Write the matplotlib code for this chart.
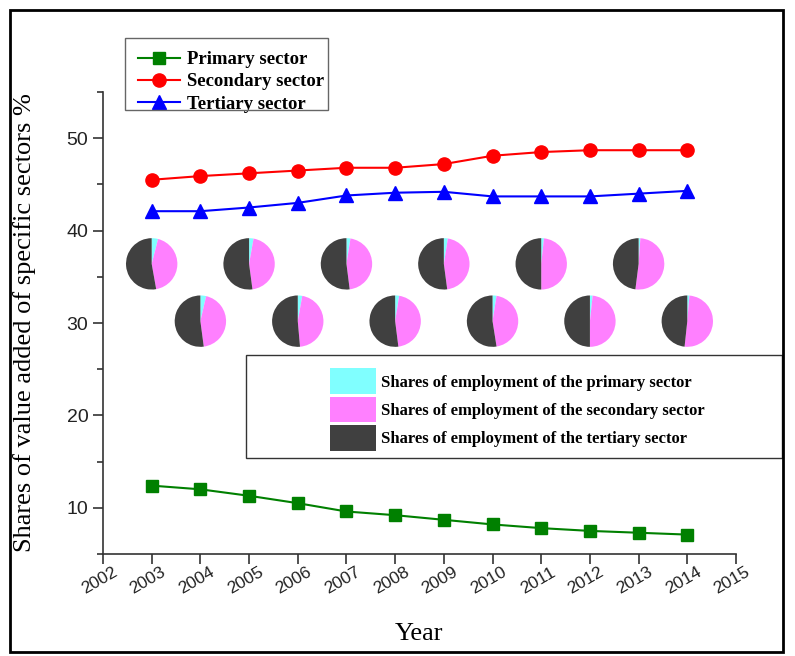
import numpy as np
import matplotlib.pyplot as plt
from matplotlib.patches import Patch, Rectangle
from matplotlib.transforms import ScaledTranslation

plt.rcParams['font.family'] = ['Liberation Serif', 'DejaVu Serif']

# value added shares (%)
years = list(range(2003, 2015))
primary = [12.4, 12.0, 11.3, 10.5, 9.6, 9.2, 8.7, 8.2, 7.8, 7.5, 7.3, 7.1]
secondary = [45.5, 45.9, 46.2, 46.5, 46.8, 46.8, 47.2, 48.1, 48.5, 48.7, 48.7, 48.7]
tertiary = [42.1, 42.1, 42.5, 43.0, 43.8, 44.1, 44.2, 43.7, 43.7, 43.7, 44.0, 44.3]

# employment shares (%) for the pies
emp_primary = [4.0, 3.6, 2.8, 2.8, 2.5, 2.5, 2.5, 2.5, 1.7, 1.7, 1.1, 1.3]
emp_secondary = [43.2, 44.3, 45.1, 45.8, 45.5, 45.5, 45.4, 45.0, 48.3, 48.3, 50.9, 50.4]
emp_tertiary = [52.8, 52.1, 52.1, 51.4, 52.0, 52.0, 52.1, 52.5, 50.0, 50.0, 48.0, 48.3]

line_labels = ['Primary sector', 'Secondary sector', 'Tertiary sector']
pie_labels = ['Shares of employment of the primary sector',
              'Shares of employment of the secondary sector',
              'Shares of employment of the tertiary sector']
pie_colors = ['#80FFFF', '#FF80FF', '#404040']

W, H = 795, 656
fig = plt.figure(figsize=(W / 100, H / 100), dpi=100)
ax = fig.add_axes([103 / W, 1 - 554 / H, (736 - 103) / W, (554 - 92) / H])

ax.plot(years, primary, color='#008000', lw=1.5, marker='s', ms=8, label=line_labels[0])
ax.plot(years, secondary, color='red', lw=1.5, marker='o', ms=9.5, label=line_labels[1])
ax.plot(years, tertiary, color='blue', lw=1.5, marker='^', ms=9.5, label=line_labels[2])

ax.set_xlim(2002, 2015)
ax.set_ylim(5, 55)
ax.set_xticks(range(2002, 2016))
ax.set_yticks([10, 20, 30, 40, 50])
ax.set_yticks([5, 15, 25, 35, 45, 55], minor=True)
for s in ['top', 'right']:
    ax.spines[s].set_visible(False)
for s in ['left', 'bottom']:
    ax.spines[s].set_color('#333333')
    ax.spines[s].set_linewidth(1.2)
ax.tick_params(which='major', direction='out', length=7, width=1.2, color='#333333')
ax.tick_params(which='minor', direction='out', length=4, width=1.2, color='#333333')
ax.tick_params(axis='x', pad=2)

for lab in ax.get_yticklabels():
    lab.set_family(['Liberation Sans', 'DejaVu Sans'])
    lab.set_fontsize(14)
    lab.set_color('#222222')
ax.set_xticklabels([str(y) for y in range(2002, 2016)], rotation=30, ha='right',
                   rotation_mode='anchor', family=['Liberation Sans', 'DejaVu Sans'],
                   fontsize=12.5, color='#222222')
shift = ScaledTranslation(0.09, 0.02, fig.dpi_scale_trans)
for lab in ax.get_xticklabels():
    lab.set_transform(lab.get_transform() + shift)

ax.set_ylabel('Shares of value added of specific sectors %', fontsize=19)
ax.yaxis.set_label_coords(-0.106, 0.5)
ax.set_xlabel('Year', fontsize=19)
ax.xaxis.set_label_coords(0.5, -0.15)

# small pies, alternating rows
rx, ry = 0.53, 2.78
for i, yr in enumerate(years):
    cy = 36.4 if i % 2 == 0 else 30.2
    pax = ax.inset_axes([yr - rx, cy - ry, 2 * rx, 2 * ry], transform=ax.transData)
    pax.pie([emp_primary[i], emp_secondary[i], emp_tertiary[i]], colors=pie_colors,
            startangle=90, counterclock=False, wedgeprops=dict(linewidth=0))
    pax.set_xlim(-1, 1)
    pax.set_ylim(-1, 1)

# line legend: box drawn separately so the rows can sit low in it
fig.add_artist(Rectangle((125 / W, 1 - 110 / H), (328 - 125) / W, (110 - 38) / H,
                         transform=fig.transFigure, fill=False, edgecolor='#666666', lw=1))
bold = dict(family='Liberation Serif', weight='bold', size=13.5)
ax.legend(loc='upper left', bbox_to_anchor=(138 / W, 1 - 51 / H),
          bbox_transform=fig.transFigure, prop=bold, frameon=False,
          borderaxespad=0, borderpad=0, handlelength=2.24, labelspacing=0.28,
          handletextpad=0.37)

handles = [Patch(facecolor=c, edgecolor='none') for c in pie_colors]
fig.add_artist(Rectangle((246 / W, 1 - 458 / H), (782 - 246) / W, (458 - 355) / H,
                         transform=fig.transFigure, fill=False, edgecolor='#333333', lw=1))
fig.legend(handles, pie_labels, loc='center',
           bbox_to_anchor=((246 + 782) / 2 / W + 3 / W, 1 - (355 + 458) / 2 / H - 3 / H),
           frameon=False, prop=dict(family='Liberation Serif', weight='bold', size=12),
           handlelength=2.75, handleheight=2.0, labelspacing=0.15, handletextpad=0.3)

# outer frame
fig.add_artist(Rectangle((10 / W, 1 - 652 / H), (783 - 10) / W, (652 - 10) / H,
                         transform=fig.transFigure, fill=False, edgecolor='black', lw=2))

fig.savefig('out.png', dpi=100)
